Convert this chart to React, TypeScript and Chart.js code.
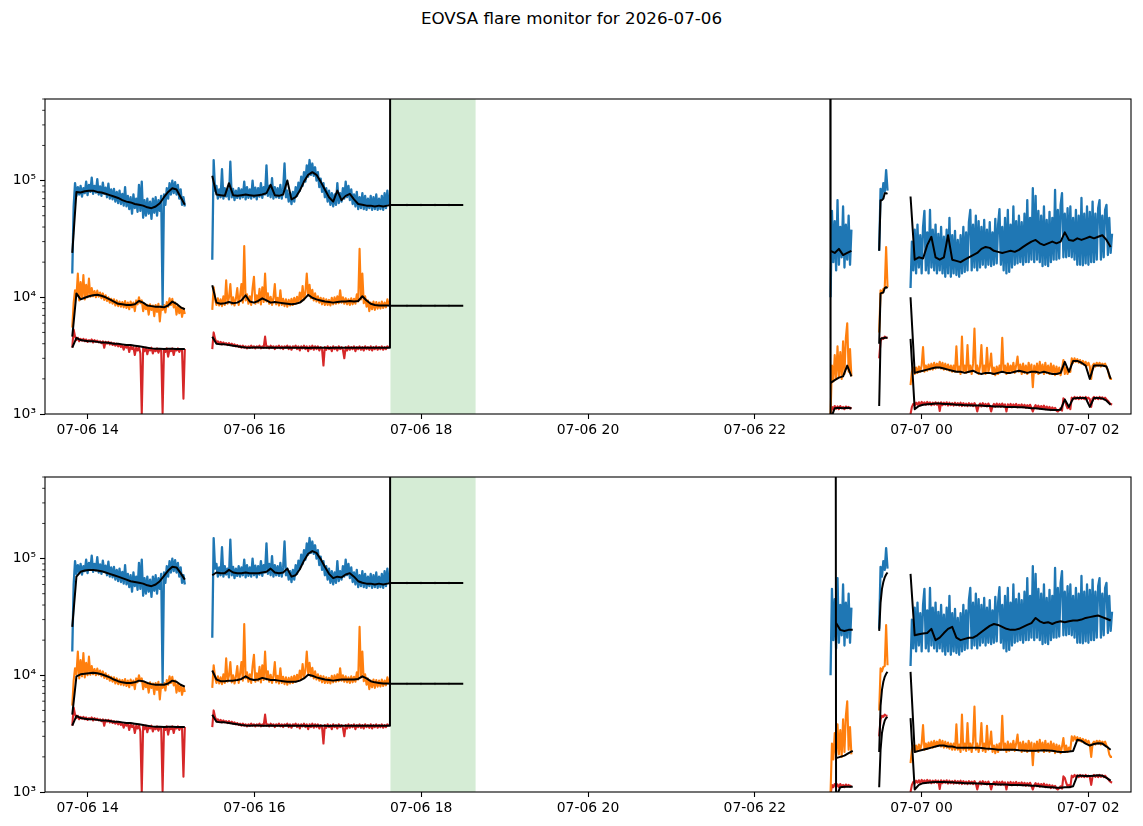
import React, { useEffect, useRef } from "react";
import { Chart, registerables } from "chart.js";
Chart.register(...registerables);
Chart.defaults.font.family = "'DejaVu Sans', sans-serif";

// ---- axes ----
const X_MIN = 13.488; // hours since 07-06 00:00
const X_MAX = 26.512;
const X_TICKS = [14, 16, 18, 20, 22, 24, 26];
const X_TICK_LABELS = ["07-06 14", "07-06 16", "07-06 18", "07-06 20", "07-06 22", "07-07 00", "07-07 02"];
const Y_MIN = 1000;
const Y_MAX = 500000;
const Y_TICKS = [1000, 10000, 100000];
const Y_TICK_LABELS = ["10³", "10⁴", "10⁵"];
const TITLE = "EOVSA flare monitor for 2026-07-06";

// shaded interval (hours)
const SPAN_START = 17.631;
const SPAN_END = 18.652;

// segment start times (hours)
const S1 = 13.815;
const S2 = 15.494;
const S3 = 22.909;
const S4 = 23.492;
const S5 = 23.868;
const S3_BOT_BLACK = 22.975;

const K = 1000; // values below are in thousands

// ---- raw series (1-min samples) ----
const blueSeg1 = [16,60,95,74,88,76,90,73,86,78,98,75,92,80,106,77,90,79,103,76,89,74,96,77,87,72,94,70,84,69,85,66,80,64,82,63,77,61,88,60,74,57,72,52,76,58,70,54,92,55,98,48,68,50,70,52,66,47,70,53,72,50,68,55,74,8.6,76,62,86,70,95,76,100,78,97,76,92,70,84,62,72,60];
const blueSeg2 = [21,150,82,90,70,84,72,125,70,86,73,82,69,145,72,85,68,82,71,86,70,84,72,98,69,88,71,84,70,100,72,87,69,86,73,95,71,88,76,135,74,90,72,105,70,88,72,86,71,92,70,84,140,72,82,66,78,63,80,66,88,74,96,82,108,90,118,98,135,108,150,112,140,110,130,100,118,88,104,80,95,72,86,66,82,62,78,60,76,62,95,64,78,66,86,70,98,72,90,68,84,63,76,60,80,57,72,58,78,57,74,56,70,58,74,56,72,57,76,56,70,57,74,56,78,58,82,62];
const blueSeg3 = [10,55,20,45,17,68,19,40,22,60,18,42,21,50,19,38];
const blueSeg4 = [25,85,70,95,80,123,82];
const blueSeg5 = [12,30,17,38,16,42,18,34,16,40,55,17,36,16,56,18,38,17,42,16,35,17,40,16,33,15,38,16,48,15,34,16,37,15.5,31,15,34,16,40,16.5,36,17,44,56,17,42,18,50,17,45,18,40,19,46,18,38,19,44,18.5,36,19,47,19.5,42,57,19,40,17,48,16,56,16.5,42,18,60,19,45,19.5,50,20,44,19,52,20,68,20,48,21,86,20,74,21,55,20,50,18.5,60,19,46,18.5,54,20,48,21,83,21,56,21.5,62,78,22,52,22,58,22.5,60,22,48,21,56,19,50,19,71,18.8,52,19.5,60,19,54,20,66,20,52,21,58,68,21,50,22,56,62,23,48,24,35];

const orangeSeg1 = [5.5,9.0,11.5,10.2,16.0,9.4,13.5,9.8,15.5,9.6,12.8,10.0,14.5,10.1,12.0,10.2,11.3,10.0,11.4,10.1,11.0,9.8,10.8,9.5,10.4,9.3,10.0,9.0,9.7,8.8,9.6,8.5,9.4,8.4,9.2,8.3,9.1,8.2,9.3,8.1,9.0,7.9,9.2,8.2,9.0,7.6,9.4,8.7,10.0,8.9,9.4,7.6,8.8,7.9,8.6,7.1,8.7,7.8,8.5,6.9,8.6,7.5,8.8,6.2,8.4,7.8,8.6,7.4,9.1,8.3,9.8,8.6,9.7,8.2,9.0,7.1,8.4,7.3,8.2,6.8,8.0,7.2];
const orangeSeg2 = [7.8,12.2,9.6,8.6,9.8,8.5,9.6,8.4,10.2,8.6,14.0,8.8,9.9,13.0,8.7,10.0,8.5,9.7,12.0,8.6,10.3,13.0,9.0,27.5,9.4,10.6,8.8,10.2,8.6,12.0,15.0,8.8,10.4,9.0,11.8,8.7,12.2,9.1,16.0,9.2,10.8,8.8,10.1,8.6,9.8,13.0,8.7,9.9,8.5,11.5,8.6,9.7,8.4,9.6,8.3,9.5,8.5,9.7,8.6,9.9,8.8,10.1,9.0,11.0,9.2,12.5,9.6,11.0,16.0,10.4,12.8,9.8,11.6,9.4,10.8,9.2,10.2,9.0,9.9,8.7,9.8,8.6,9.6,8.6,9.5,8.5,9.9,8.7,10.0,8.8,10.2,8.9,11.5,9.0,10.0,8.8,9.8,8.7,9.6,8.6,9.8,8.7,9.7,8.8,10.6,9.2,26.0,9.6,16.0,8.9,10.2,8.3,9.4,7.6,9.0,7.9,9.2,7.8,9.1,8.0,9.0,8.0,9.2,8.1,9.0,8.2,9.6,8.6];
const orangeSeg3 = [1.0,2.6,1.9,3.2,2.0,3.8,2.1,3.4,2.0,4.2,2.2,4.5,6.0,2.3,3.6,2.1];
const orangeSeg4 = [5.0,11.5,10.8,11.8,12.0,27,12.2];
const orangeSeg5 = [1.77,2.3,2.5,2.2,2.5,2.25,2.55,2.3,2.6,3.75,2.3,2.6,2.35,2.65,2.4,2.7,2.4,2.75,2.45,2.7,2.5,2.8,2.45,2.75,2.4,2.7,2.4,2.65,2.35,2.6,2.3,2.6,2.3,3.8,2.3,2.55,2.2,4.6,2.3,2.6,2.25,3.9,2.3,2.6,2.2,2.7,5.4,2.3,2.6,2.2,2.55,3.9,2.25,2.6,2.2,3.7,2.3,2.55,3.3,2.2,2.5,2.15,2.55,2.2,2.6,2.3,4.5,2.3,2.6,2.2,2.7,2.25,2.6,2.3,2.75,2.25,2.6,3.1,2.3,2.65,2.2,2.7,2.25,2.6,2.2,2.75,2.3,2.65,1.7,2.6,2.25,2.7,2.2,2.8,2.3,2.65,2.2,2.75,2.25,2.6,2.2,2.7,2.25,2.6,2.15,2.55,2.2,2.5,2.15,2.45,2.9,2.2,2.5,2.2,2.4,2.3,3.0,2.75,3.0,2.8,2.95,2.75,2.9,2.7,2.85,2.65,2.8,2.6,2.75,2.55,2.0,2.6,2.7,2.55,2.75,2.6,2.75,2.55,2.7,2.6,2.7,2.5,2.4,2.1,2.0,2.0];

const redSeg1 = [3.7,5.3,4.6,4.3,4.5,4.2,4.4,4.25,4.4,4.2,4.35,4.15,4.3,4.2,4.35,4.1,4.3,4.15,4.25,4.1,4.2,4.05,4.2,3.7,4.15,4.0,4.15,3.95,4.1,3.9,4.05,3.85,4.0,3.8,3.95,3.75,3.9,3.55,3.85,3.7,3.85,3.4,3.8,3.6,3.75,3.2,3.7,3.5,3.75,3.3,1.0,3.65,3.45,3.7,3.25,3.65,3.5,3.7,3.3,3.6,3.45,3.65,3.35,3.6,3.5,1.02,3.6,3.4,3.65,3.1,3.6,3.45,3.65,3.2,3.6,3.5,3.65,3.4,3.6,3.5,1.35,3.6];
const redSeg2 = [3.6,5.0,4.4,4.1,4.2,4.0,4.15,3.95,4.1,3.95,4.05,3.9,4.05,3.9,4.0,3.85,3.95,3.8,3.9,3.75,3.85,3.7,3.85,3.7,3.8,3.65,3.8,3.7,3.85,3.7,3.8,3.65,3.8,3.7,3.85,3.65,3.8,3.7,4.6,3.7,3.8,3.65,3.85,3.7,3.8,3.6,3.8,3.7,3.85,3.65,3.8,3.6,3.8,3.7,3.85,3.6,3.8,3.55,3.8,3.7,3.85,3.6,3.8,3.5,3.8,3.65,3.85,3.6,3.8,3.45,3.8,3.6,3.85,3.55,3.8,3.6,3.8,3.5,3.75,3.6,2.6,3.75,3.55,3.8,3.6,3.75,3.45,3.8,3.6,3.75,3.5,3.8,3.6,3.75,3.55,3.0,3.75,3.5,3.8,3.55,3.75,3.6,3.8,3.45,3.75,3.6,3.8,3.55,3.75,3.5,3.8,3.6,3.75,3.55,3.8,3.5,3.75,3.6,3.8,3.55,3.75,3.6,3.8,3.55,3.75,3.6,3.8,3.7];
const redSeg3 = [0.95,1.15,1.1,1.17,1.11,1.16,1.1,1.17,1.12,1.15,1.1,1.16,1.12,1.15,1.11,1.14];
const redSeg4 = [3.0,4.2,4.5,4.4,4.6,4.5,4.5];
const redSeg5 = [1.0,1.15,1.22,1.18,1.25,1.2,1.26,1.19,1.27,1.21,1.26,1.2,1.27,1.21,1.26,1.19,1.25,1.2,1.26,1.2,1.25,1.06,1.26,1.19,1.25,1.2,1.26,1.18,1.25,1.19,1.24,1.18,1.25,1.19,1.24,1.18,1.25,1.17,1.24,1.18,1.23,1.17,1.24,1.18,1.23,1.17,1.24,1.18,1.05,1.17,1.23,1.16,1.24,1.17,1.22,1.16,1.23,1.17,1.05,1.16,1.22,1.15,1.23,1.16,1.22,1.15,1.23,1.16,1.21,1.05,1.21,1.15,1.22,1.14,1.21,1.15,1.22,1.14,1.2,1.15,1.21,1.14,1.2,1.13,1.19,1.14,1.2,1.13,1.05,1.14,1.19,1.12,1.18,1.11,1.17,1.12,1.18,1.1,1.16,1.11,1.15,1.08,1.14,1.09,1.13,1.07,1.05,1.08,1.12,1.07,1.36,1.32,1.2,1.12,1.15,1.1,1.38,1.34,1.4,1.35,1.39,1.34,1.4,1.35,1.39,1.34,1.4,1.35,1.38,1.34,1.15,1.36,1.4,1.35,1.39,1.34,1.4,1.35,1.39,1.34,1.38,1.33,1.3,1.25,1.22,1.2];

// ---- smoothed (black) series, 3-min steps (segment 4: 1-min) ----
const bridgeTimes = [17.633, 17.829, 17.997, 18.165, 18.333, 18.504];
const bridgeMarks = [false, true, true, true, true, false];
const blueBridge = [61.8, 61.8, 61.8, 61.8, 61.8, 61.8];
const orangeBridge = [8.45, 8.45, 8.45, 8.45, 8.45, 8.45];
const redBridgeTopTimes = [17.625, 17.628, 22.905];
const redBridgeBotTimes = [17.625, 17.628, 22.97];
const redBridgeVals = [3.7, 10000, 10000];

const bBlueTop1 = [24,80,79,81,82,82,80,79,77,75,73,71,68,66,65,63,62,61,59,58,60,64,72,80,86,84,72,62];
const bBlueTop2 = [110,76,75,74,95,75,74,75,76,75,74,75,76,78,92,75,74,76,100,69,72,82,98,112,118,112,98,84,72,66,82,68,74,77,69,63,62,61,61,60,61,60,61];
const bBlueTop3 = [25,24,26,23,24,25];
const bBlueTop4 = [25,68,68,70,78,78,77];
const bBlueTop5 = [73,21,22,21.5,28,33,22,21,22,34,21,20.5,20,21,22,23,24,26,27,26.5,25,24.5,24,24.5,25,24.5,25.5,27,28.5,30,31,29,28,29,30,29,30,36,31,30.5,32,31,32,33,32,33,34,31,27];

const bOrangeTop1 = [4.6,10.8,9.6,9.9,10.2,10.4,10.5,10.3,10.0,9.6,9.2,8.8,8.7,8.6,8.6,8.7,9.3,9.0,8.5,8.4,8.3,8.3,8.2,8.5,9.2,8.8,8.2,7.9];
const bOrangeTop2 = [12.7,9.0,8.8,8.9,9.1,8.9,9.0,9.4,10.4,9.2,9.0,9.3,9.8,9.4,9.0,9.1,9.0,8.9,8.8,8.7,8.8,9.0,9.6,10.5,9.9,9.6,9.4,9.2,9.1,9.0,9.1,9.2,9.2,9.3,9.2,9.3,10.2,9.4,8.8,8.6,8.5,8.5,8.5];
const bOrangeTop3 = [1.85,1.95,2.05,2.1,2.6,2.1];
const bOrangeTop4 = [4.0,10.8,10.9,11.0,12.0,12.2,12.0];
const bOrangeTop5 = [10.0,2.25,2.3,2.35,2.4,2.45,2.5,2.5,2.45,2.4,2.35,2.3,2.3,2.25,2.3,2.35,2.25,2.2,2.25,2.25,2.2,2.25,2.3,2.25,2.25,2.3,2.35,2.3,2.25,2.3,2.3,2.25,2.3,2.25,2.2,2.2,2.25,2.8,2.3,2.85,2.85,2.75,2.6,2.0,2.6,2.6,2.6,2.55,2.0];

const bRed1 = [3.7,4.5,4.3,4.25,4.2,4.2,4.15,4.1,4.1,4.05,4.0,4.0,3.95,3.9,3.9,3.85,3.8,3.75,3.7,3.65,3.62,3.62,3.6,3.62,3.62,3.6,3.6,3.6];
const bRed2 = [4.6,4.0,3.95,3.95,3.9,3.85,3.8,3.75,3.72,3.7,3.72,3.72,3.7,3.7,3.72,3.7,3.7,3.7,3.72,3.7,3.7,3.7,3.7,3.68,3.7,3.7,3.7,3.7,3.68,3.7,3.7,3.7,3.7,3.7,3.7,3.7,3.7,3.7,3.7,3.7,3.7,3.7,3.7];
const bRedTop3 = [0.9,1.12,1.13,1.12,1.13,1.12];
const bRedTop4 = [1.17,4.4,4.45,4.45,4.5,4.5,4.5];
const bRedTop5 = [4.4,1.1,1.17,1.2,1.21,1.22,1.23,1.23,1.22,1.22,1.21,1.2,1.2,1.19,1.19,1.18,1.18,1.18,1.17,1.17,1.16,1.16,1.16,1.15,1.15,1.15,1.14,1.14,1.13,1.12,1.12,1.11,1.1,1.09,1.08,1.08,1.09,1.33,1.15,1.36,1.37,1.37,1.37,1.15,1.37,1.37,1.36,1.3,1.2];

const bBlueBot1 = [26,70,77,79,80,80,79,78,76,74,72,70,68,66,64,63,62,61,59,58,60,64,71,79,85,84,75,66];
const bBlueBot2 = [72,76,75,75,80,76,75,75,76,75,75,75,76,77,82,76,75,76,82,70,72,81,96,110,116,112,99,85,74,68,70,69,73,75,70,64,62,61,61,60,61,60,61];
const bBlueBot3 = [28,24.5,24,24.5,24.5];
const bBlueBot4 = [24,42,55,63,69,73,76];
const bBlueBot5 = [74,22,22.5,22.8,23,25,20,21,23,25,26,21,20,20.5,21,21,22,23.5,25,26.5,27.5,27,26,25,24.5,24.5,25,26,27,28,31,29,28,28.5,27.5,28.5,29,28.5,29,29.5,29.5,30,31,31.5,32,32.5,31.5,30.5,29.5];

const bOrangeBot1 = [4.6,9.8,10.2,10.3,10.4,10.5,10.4,10.2,9.9,9.6,9.2,8.9,8.7,8.6,8.6,8.7,9.0,8.9,8.6,8.4,8.3,8.3,8.3,8.5,9.0,8.8,8.3,8.0];
const bOrangeBot2 = [11.0,9.2,8.9,8.9,9.0,9.0,9.1,9.3,9.8,9.3,9.1,9.2,9.5,9.3,9.1,9.1,9.0,8.9,8.8,8.8,8.8,9.0,9.4,10.1,9.9,9.6,9.4,9.2,9.1,9.0,9.1,9.2,9.2,9.2,9.2,9.3,9.8,9.4,8.9,8.7,8.6,8.5,8.5];
const bOrangeBot3 = [1.95,2.0,2.05,2.15,2.25];
const bOrangeBot4 = [2.2,5.5,7.5,8.8,9.7,10.3,10.7];
const bOrangeBot5 = [10.7,2.2,2.25,2.3,2.35,2.4,2.45,2.5,2.5,2.45,2.45,2.4,2.4,2.4,2.4,2.4,2.4,2.38,2.36,2.35,2.33,2.3,2.3,2.3,2.3,2.3,2.28,2.27,2.26,2.26,2.26,2.27,2.28,2.27,2.26,2.22,2.2,2.2,2.22,2.25,2.8,2.75,2.6,2.5,2.58,2.62,2.6,2.45,2.3];

const bRedBot3 = [0.9,1.1,1.11,1.11,1.11];
const bRedBot4 = [1.1,2.3,3.2,3.7,4.1,4.3,4.4];
const bRedBot5 = [4.3,1.05,1.15,1.19,1.2,1.21,1.22,1.22,1.22,1.21,1.21,1.2,1.2,1.19,1.19,1.19,1.18,1.18,1.17,1.17,1.17,1.16,1.16,1.16,1.15,1.15,1.15,1.14,1.14,1.13,1.13,1.12,1.11,1.1,1.1,1.09,1.09,1.1,1.1,1.12,1.38,1.38,1.37,1.37,1.38,1.39,1.38,1.32,1.25];

// ---- helpers ----
type P = { x: number; y: number | null; m?: boolean };
function seg(t0: number, stepMin: number, vals: number[]): P[] {
  return vals.map((v, i) => ({ x: t0 + (i * stepMin) / 60, y: v * K }));
}
function pts(times: number[], vals: number[], marks?: boolean[]): P[] {
  return times.map((t, i) => ({ x: t, y: vals[i] * K, m: marks ? marks[i] : false }));
}
function gapped(parts: P[][]): P[] {
  const out: P[] = [];
  parts.forEach((p, i) => {
    if (i > 0) out.push({ x: (out[out.length - 1].x + p[0].x) / 2, y: null });
    out.push(...p);
  });
  return out;
}

const blueRaw = gapped([seg(S1, 1, blueSeg1), seg(S2, 1, blueSeg2), seg(S3, 1, blueSeg3), seg(S4, 1, blueSeg4), seg(S5, 1, blueSeg5)]);
const orangeRaw = gapped([seg(S1, 1, orangeSeg1), seg(S2, 1, orangeSeg2), seg(S3, 1, orangeSeg3), seg(S4, 1, orangeSeg4), seg(S5, 1, orangeSeg5)]);
const redRaw = gapped([seg(S1, 1, redSeg1), seg(S2, 1, redSeg2), seg(S3, 1, redSeg3), seg(S4, 1, redSeg4), seg(S5, 1, redSeg5)]);

const blackTop: P[][] = [
  gapped([seg(S1, 3, bBlueTop1), [...seg(S2, 3, bBlueTop2), ...pts(bridgeTimes, blueBridge, bridgeMarks)], seg(S3, 3, bBlueTop3), seg(S4, 1, bBlueTop4), seg(S5, 3, bBlueTop5)]),
  gapped([seg(S1, 3, bOrangeTop1), [...seg(S2, 3, bOrangeTop2), ...pts(bridgeTimes, orangeBridge, bridgeMarks)], seg(S3, 3, bOrangeTop3), seg(S4, 1, bOrangeTop4), seg(S5, 3, bOrangeTop5)]),
  gapped([seg(S1, 3, bRed1), [...seg(S2, 3, bRed2), ...pts(redBridgeTopTimes, redBridgeVals), ...seg(S3, 3, bRedTop3)], seg(S4, 1, bRedTop4), seg(S5, 3, bRedTop5)]),
];
const blackBot: P[][] = [
  gapped([seg(S1, 3, bBlueBot1), [...seg(S2, 3, bBlueBot2), ...pts(bridgeTimes, blueBridge, bridgeMarks)], seg(S3_BOT_BLACK, 3, bBlueBot3), seg(S4, 1, bBlueBot4), seg(S5, 3, bBlueBot5)]),
  gapped([seg(S1, 3, bOrangeBot1), [...seg(S2, 3, bOrangeBot2), ...pts(bridgeTimes, orangeBridge, bridgeMarks)], seg(S3_BOT_BLACK, 3, bOrangeBot3), seg(S4, 1, bOrangeBot4), seg(S5, 3, bOrangeBot5)]),
  gapped([seg(S1, 3, bRed1), [...seg(S2, 3, bRed2), ...pts(redBridgeBotTimes, redBridgeVals), ...seg(S3_BOT_BLACK, 3, bRedBot3)], seg(S4, 1, bRedBot4), seg(S5, 3, bRedBot5)]),
];

const decor = {
  id: "decor",
  beforeDatasetsDraw(chart: any) {
    const { ctx, chartArea: a, scales } = chart;
    const x0 = scales.x.getPixelForValue(SPAN_START);
    const x1 = scales.x.getPixelForValue(SPAN_END);
    ctx.save();
    ctx.fillStyle = "rgba(44,160,44,0.2)";
    ctx.fillRect(x0, a.top, x1 - x0, a.bottom - a.top);
    ctx.restore();
  },
  afterDraw(chart: any) {
    const { ctx, chartArea: a, scales } = chart;
    ctx.save();
    ctx.strokeStyle = "#000";
    ctx.lineWidth = 1.1;
    ctx.strokeRect(a.left, a.top, a.right - a.left, a.bottom - a.top);
    ctx.lineWidth = 0.8;
    for (const dec of Y_TICKS) {
      for (let m = 2; m <= 9; m++) {
        const v = dec * m;
        if (v > Y_MAX) break;
        const py = scales.y.getPixelForValue(v);
        ctx.beginPath();
        ctx.moveTo(a.left - 2.8, py);
        ctx.lineTo(a.left, py);
        ctx.stroke();
      }
    }
    ctx.restore();
  },
};

const W = 1143;
const H = 369;
const PAD_TOP = 14;

function Panel({ top, black }: { top: number; black: P[][] }) {
  const ref = useRef<HTMLCanvasElement>(null);
  useEffect(() => {
    const lineDs = (data: P[], color: string, width: number) => ({
      data,
      borderColor: color,
      backgroundColor: color,
      borderWidth: width,
      pointRadius: (c: any) => (c.raw && c.raw.m ? 1.3 : 0),
      pointStyle: "line",
      rotation: 90,
      pointBorderColor: "rgba(0,0,0,0.6)",
      pointBorderWidth: 0.8,
      tension: 0,
      fill: false,
      spanGaps: false,
      borderJoinStyle: "round" as const,
    });
    const chart = new Chart(ref.current as HTMLCanvasElement, {
      type: "line",
      data: {
        datasets: [
          lineDs(black[0], "#000000", 2),
          lineDs(black[1], "#000000", 2),
          lineDs(black[2], "#000000", 2),
          lineDs(blueRaw, "#1f77b4", 2.3),
          lineDs(orangeRaw, "#ff7f0e", 2.1),
          lineDs(redRaw, "#d62728", 2.1),
        ] as any,
      },
      options: {
        responsive: false,
        animation: false,
        events: [],
        layout: { padding: { top: PAD_TOP, right: 12, left: 0, bottom: 0 } },
        plugins: { legend: { display: false }, tooltip: { enabled: false } },
        scales: {
          x: {
            type: "linear",
            min: X_MIN,
            max: X_MAX,
            afterBuildTicks: (s: any) => {
              s.ticks = X_TICKS.map((v) => ({ value: v }));
            },
            afterFit: (s: any) => {
              s.height = 40;
            },
            ticks: {
              autoSkip: false,
              maxRotation: 0,
              color: "#000",
              padding: 3,
              font: { size: 13.9, family: "'DejaVu Sans'" },
              callback: (v: any) => X_TICK_LABELS[X_TICKS.indexOf(Number(v))] ?? "",
            },
            grid: { display: true, drawOnChartArea: false, drawTicks: true, tickLength: 5, tickWidth: 1.1, tickColor: "#000" },
            border: { display: false },
          },
          y: {
            type: "logarithmic",
            min: Y_MIN,
            max: Y_MAX,
            afterBuildTicks: (s: any) => {
              s.ticks = Y_TICKS.map((v) => ({ value: v }));
            },
            afterFit: (s: any) => {
              s.width = 45;
            },
            ticks: {
              color: "#000",
              padding: 4,
              font: { size: 13.9, family: "'DejaVu Sans'" },
              callback: (v: any) => Y_TICK_LABELS[Y_TICKS.indexOf(Number(v))] ?? "",
            },
            grid: { display: true, drawOnChartArea: false, drawTicks: true, tickLength: 5, tickWidth: 1.1, tickColor: "#000" },
            border: { display: false },
          },
        },
      } as any,
      plugins: [decor],
    });
    return () => chart.destroy();
  }, []);
  return (
    <canvas
      ref={ref}
      width={W}
      height={H}
      style={{ position: "absolute", left: 0, top, width: W, height: H }}
    />
  );
}

export default function App() {
  return (
    <div style={{ position: "absolute", left: 0, top: 0, width: W, height: 826, background: "#fff", overflow: "hidden" }}>
      <div
        style={{
          position: "absolute",
          left: 0,
          top: 0,
          width: W,
          height: 36,
          lineHeight: "36px",
          textAlign: "center",
          fontFamily: "'DejaVu Sans', sans-serif",
          fontSize: 16.7,
          color: "#000",
        }}
      >
        {TITLE}
      </div>
      <Panel top={99 - PAD_TOP} black={blackTop} />
      <Panel top={477 - PAD_TOP} black={blackBot} />
    </div>
  );
}
